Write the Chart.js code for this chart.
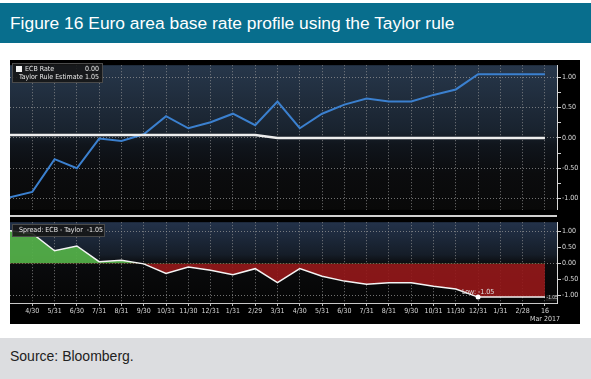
<!DOCTYPE html>
<html><head><meta charset="utf-8">
<script src="https://cdn.jsdelivr.net/npm/chart.js@4"></script>
<style>
html,body{margin:0;padding:0;background:#fff;width:591px;height:379px;overflow:hidden;font-family:"Liberation Sans",Arial,sans-serif;}
#hdr{position:absolute;left:0;top:3px;width:591px;height:40px;background:#086e8d;color:#fff;font-size:17.4px;line-height:40px;padding-left:10px;box-sizing:border-box;white-space:nowrap;}
#ftr{position:absolute;left:0;top:338px;width:591px;height:41px;background:#dcdde0;color:#222;font-size:14px;line-height:36px;padding-left:10px;box-sizing:border-box;}
#bg{position:absolute;left:10px;top:60px;width:570px;height:264px;background:#000;}
#c1{position:absolute;left:10px;top:60px;}
#c2{position:absolute;left:10px;top:217px;}
#sep{position:absolute;left:10px;top:215px;width:547px;height:2px;background:#cfcfcf;}
.lg{position:absolute;background:rgba(22,22,22,0.88);border:1px solid #4a4a4a;color:#e8e8e8;font:7px "Liberation Sans Narrow","DejaVu Sans Condensed",sans-serif;box-sizing:border-box;padding:1px 3px;}
.row{display:flex;align-items:center;height:8px;white-space:nowrap;}
.sq{display:inline-block;width:6px;height:6px;margin-right:3px;}
.val{margin-left:auto;}
</style></head>
<body>
<div id="hdr">Figure 16 Euro area base rate profile using the Taylor rule</div>
<div id="bg"></div>
<canvas id="c1" width="569" height="155"></canvas>
<canvas id="c2" width="569" height="107"></canvas>
<div id="sep"></div>
<div class="lg" style="left:12px;top:63px;width:91px;height:20px;">
  <div class="row"><span class="sq" style="background:#f2f2f2"></span>ECB Rate<span class="val">0.00</span></div>
  <div class="row"><span class="sq" style="background:#3b80cf"></span>Taylor Rule Estimate<span class="val">&nbsp;1.05</span></div>
</div>
<div class="lg" style="left:12px;top:224px;width:93px;height:13px;">
  <div class="row"><span class="sq" style="background:#f2f2f2"></span>Spread: ECB - Taylor&nbsp;&nbsp;-1.05</div>
</div>
<div id="ftr">Source: Bloomberg.</div>
<script>
// ---- data (month-end observations, Mar 2015 - 16 Mar 2017) ----
const dateLabels = ['3/31','4/30','5/31','6/30','7/31','8/31','9/30','10/31','11/30','12/31','1/31','2/29','3/31','4/30','5/31','6/30','7/31','8/31','9/30','10/31','11/30','12/31','1/31','2/28','16'];
const ecbRate = [0.05,0.05,0.05,0.05,0.05,0.05,0.05,0.05,0.05,0.05,0.05,0.05,0.00,0.00,0.00,0.00,0.00,0.00,0.00,0.00,0.00,0.00,0.00,0.00,0.00];
const taylorRule = [-0.98,-0.89,-0.35,-0.50,-0.01,-0.05,0.06,0.36,0.16,0.26,0.40,0.21,0.60,0.16,0.40,0.55,0.65,0.60,0.60,0.71,0.80,1.05,1.05,1.05,1.05];
const spread = [1.03,0.94,0.40,0.55,0.06,0.10,-0.01,-0.31,-0.11,-0.21,-0.35,-0.16,-0.60,-0.16,-0.40,-0.55,-0.65,-0.60,-0.60,-0.71,-0.80,-1.05,-1.05,-1.05,-1.05];
const topTicks = [-1,-0.75,-0.5,-0.25,0,0.25,0.5,0.75,1];
const bottomTicks = [-1,-0.5,0,0.5,1];
const lowIndex = 21, lowValue = -1.05;

const pts = arr => arr.map((v,i)=>({x:i,y:v}));
const gridCol = 'rgba(150,150,150,0.75)';
const tickFont = {family:"'Liberation Sans Narrow','DejaVu Sans Condensed',sans-serif", size:7};
const xMax = 24.54;

function bgPlugin(stops){
  return {id:'bg', beforeDraw(chart){
    const {ctx, chartArea:a} = chart;
    ctx.save();
    ctx.fillStyle='#000'; ctx.fillRect(0,0,chart.width,chart.height);
    const g = ctx.createLinearGradient(0,a.top,0,a.bottom);
    stops.forEach(s=>g.addColorStop(s[0],s[1]));
    ctx.fillStyle=g; ctx.fillRect(a.left,a.top,a.right-a.left,a.bottom-a.top);
    ctx.restore();
  }};
}
function xScale(showLabels){
  return {type:'linear', min:0, max:xMax, position:'bottom',
    afterBuildTicks(s){ s.ticks = dateLabels.map((d,i)=>({value:i})).slice(1); },
    afterFit(s){ s.height = showLabels ? 21 : 0; },
    grid:{color:gridCol, lineWidth:1, drawTicks:showLabels, tickLength:3, tickColor:'#bbb'},
    border:{display:showLabels, color:'#c8c8c8', width:1, dash:[1,2]},
    ticks:{display:showLabels, maxRotation:0, autoSkip:false, padding:1, color:'#d8d8d8', font:tickFont,
      callback(v){ const l = dateLabels[v]; return v===24 ? [l,'Mar 2017'] : l; }}
  };
}
function yScale(min,max,ticks,major){
  return {type:'linear', position:'right', min, max,
    afterBuildTicks(s){ s.ticks = ticks.map(v=>({value:v})); },
    afterFit(s){ s.width = 22; },
    grid:{color:c=> (Math.abs(c.tick.value/major - Math.round(c.tick.value/major))<1e-6) ? gridCol : 'transparent',
      tickColor:'#d0d0d0', tickLength:4, lineWidth:1},
    border:{display:true, color:'#d8d8d8', width:1, dash:[1,2]},
    ticks:{padding:1, color:'#dcdcdc', font:tickFont,
      callback(v){ return (Math.abs(v/0.5-Math.round(v/0.5))<1e-6) ? v.toFixed(2) : ''; }}
  };
}

new Chart(document.getElementById('c1'), {
  type:'line',
  data:{datasets:[
    {label:'ECB Rate', data:pts(ecbRate), borderColor:'#ededed', borderWidth:2.5, pointRadius:0, tension:0},
    {label:'Taylor Rule Estimate', data:pts(taylorRule), borderColor:'#3b80cf', borderWidth:2, pointRadius:0, tension:0}
  ]},
  options:{responsive:false, devicePixelRatio:1, animation:false, layout:{padding:0},
    plugins:{legend:{display:false}, tooltip:{enabled:false}},
    scales:{x:xScale(false), y:yScale(-1.185,1.2,topTicks,0.5)}},
  plugins:[bgPlugin([[0,'#27374b'],[0.45,'#19232f'],[0.55,'#10151c'],[0.75,'#0b0c0e'],[1,'#090909']])]
});

const annot = {id:'annot', afterDatasetsDraw(chart){
  const {ctx, scales:{x,y}} = chart;
  const px = x.getPixelForValue(lowIndex), py = y.getPixelForValue(lowValue);
  ctx.save();
  ctx.font = "7px 'Liberation Sans Narrow','DejaVu Sans Condensed',sans-serif";
  ctx.fillStyle='#e0e0e0'; ctx.textAlign='center'; ctx.textBaseline='bottom';
  ctx.fillText('Low: -1.05', px, py-1);
  ctx.beginPath(); ctx.arc(px,py,2.5,0,Math.PI*2); ctx.fillStyle='#fff'; ctx.fill();
  const ex = x.getPixelForValue(24);
  ctx.fillStyle='rgba(30,30,30,0.9)'; ctx.fillRect(ex+1,py-2,11,6);
  ctx.fillStyle='#ccc'; ctx.font="5px 'Liberation Sans Narrow',sans-serif"; ctx.textAlign='left'; ctx.textBaseline='middle';
  ctx.fillText('-1.05', ex+1.5, py+1);
  ctx.restore();
}};

new Chart(document.getElementById('c2'), {
  type:'line',
  data:{datasets:[
    {label:'Spread: ECB - Taylor', data:pts(spread), borderColor:'#f4f4f4', borderWidth:1.5, pointRadius:0, tension:0,
     fill:{target:{value:0}, above:'rgba(84,176,72,0.93)', below:'rgba(150,24,26,0.9)'}}
  ]},
  options:{responsive:false, devicePixelRatio:1, animation:false, layout:{padding:0},
    plugins:{legend:{display:false}, tooltip:{enabled:false}},
    scales:{x:xScale(true), y:yScale(-1.235,1.294,bottomTicks,1)}},
  plugins:[bgPlugin([[0,'#23324a'],[0.4,'#151d28'],[0.52,'#0a0b0d'],[1,'#050505']]), annot]
});
</script>
</body></html>
